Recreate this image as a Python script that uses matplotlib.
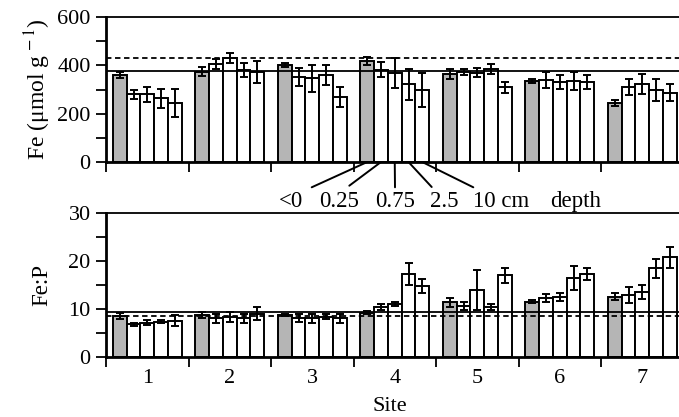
import matplotlib.pyplot as plt
import numpy as np

plt.rcParams['font.family'] = ['Liberation Serif', 'DejaVu Serif']
plt.rcParams['mathtext.fontset'] = 'stix'

sites = ['1', '2', '3', '4', '5', '6', '7']
depths = ['<0', '0.25', '0.75', '2.5', '10 cm']

# Fe (umol/g), rows = sites, cols = depth
fe = [[360, 280, 280, 264, 245],
      [374, 405, 429, 381, 372],
      [401, 353, 346, 360, 270],
      [419, 381, 367, 321, 298],
      [364, 374, 370, 385, 309],
      [336, 339, 332, 336, 332],
      [245, 309, 323, 298, 287]]
fe_err = [[14, 19, 30, 39, 58],
          [19, 21, 21, 28, 47],
          [8, 38, 55, 40, 41],
          [16, 31, 62, 64, 69],
          [19, 12, 19, 19, 22],
          [8, 32, 28, 36, 28],
          [12, 33, 41, 46, 34]]

fep = [[8.5, 6.75, 7.1, 7.3, 7.5],
       [8.7, 8.0, 8.3, 8.0, 9.0],
       [8.7, 8.0, 8.0, 8.3, 8.0],
       [9.2, 10.4, 11.0, 17.2, 14.7],
       [11.3, 10.6, 13.9, 10.4, 17.0],
       [11.5, 12.2, 12.4, 16.5, 17.2],
       [12.5, 12.85, 13.5, 18.4, 20.7]]
fep_err = [[0.6, 0.35, 0.55, 0.35, 1.2],
           [0.7, 1.0, 1.0, 1.0, 1.35],
           [0.3, 0.8, 0.9, 0.5, 1.0],
           [0.35, 0.6, 0.5, 2.25, 1.45],
           [0.85, 0.85, 4.2, 0.6, 1.55],
           [0.25, 0.8, 0.85, 2.5, 1.3],
           [0.7, 1.75, 1.5, 1.9, 2.2]]

fe_solid, fe_dashed = 376, 430
fep_solid, fep_dashed = 9.35, 8.5

W, H = 679, 417
fig = plt.figure(figsize=(W / 100, H / 100), dpi=100)
left = 106 / W
width = (683.5 - 106) / W
ax1 = fig.add_axes([left, 1 - 162 / H, width, 145 / H])
ax2 = fig.add_axes([left, 1 - 356.7 / H, width, 144 / H])

n_sites = len(sites)
bw = 1 / 6
colors = ['#b5b5b5'] + ['white'] * 4


def draw(ax, vals, errs, solid, dashed):
    vals = np.array(vals)
    errs = np.array(errs)
    for k in range(len(depths)):
        x = np.arange(n_sites) + (k + 1) * bw
        ax.bar(x, vals[:, k], width=bw, color=colors[k], edgecolor='black',
               linewidth=1.4, zorder=2)
        ax.errorbar(x, vals[:, k], yerr=errs[:, k], fmt='none', ecolor='black',
                    elinewidth=1.4, capsize=2.6, capthick=1.4, zorder=3)
    ax.axhline(solid, color='black', lw=1.3, zorder=4)
    ax.axhline(dashed, color='black', lw=1.3, ls=(0, (3, 2)), zorder=4)
    ax.set_xlim(0, n_sites)
    ax.set_xticks(np.arange(n_sites + 1))
    ax.set_xticklabels([])
    ax.set_xticks(np.arange(n_sites) + 0.5, minor=True)
    ax.tick_params(axis='x', which='major', direction='out', length=7.5, width=1.3)
    ax.tick_params(axis='x', which='minor', length=0)
    ax.tick_params(axis='y', which='both', direction='out', length=7.5, width=1.3,
                   labelsize=16)
    ax.spines['left'].set_linewidth(2)
    ax.spines['bottom'].set_linewidth(2)
    ax.spines['top'].set_linewidth(1.3)
    ax.spines['right'].set_linewidth(1.3)


draw(ax1, fe, fe_err, fe_solid, fe_dashed)
ax1.set_ylim(0, 600)
ax1.set_yticks([0, 200, 400, 600])
ax1.set_yticks([100, 300, 500], minor=True)
ax1.set_ylabel('Fe (μmol g$^{\\,-1}$)', fontsize=17, labelpad=3)

draw(ax2, fep, fep_err, fep_solid, fep_dashed)
ax2.set_ylim(0, 30)
ax2.set_yticks([0, 10, 20, 30])
ax2.set_yticks([5, 15, 25], minor=True)
ax2.set_xticklabels(sites, minor=True, fontsize=16)
ax2.tick_params(axis='x', which='minor', pad=9)
ax2.set_ylabel('Fe:P', fontsize=16.5, labelpad=12)
ax2.set_xlabel('Site', fontsize=16)
ax2.xaxis.set_label_coords(0.492, -0.28)

# depth legend with leader lines from site 4 bars
label_x = [291.5, 339.5, 395, 444, 501.5]
line_end = [(311.7, 187.3), (349.3, 185.7), (395, 187.3), (431.7, 187), (473.3, 187.3)]
for k, lab in enumerate(depths):
    xc = 3 + (k + 1) * bw
    ex, ey = line_end[k]
    ax1.annotate('', xy=(xc, 0), xycoords='data',
                 xytext=(ex / W, 1 - ey / H), textcoords='figure fraction',
                 arrowprops=dict(arrowstyle='-', lw=1.4, color='black',
                                 shrinkA=0, shrinkB=0),
                 annotation_clip=False)
    fig.text(label_x[k] / W, 1 - 207 / H, lab, ha='center', va='baseline', fontsize=16.5)
fig.text(576 / W, 1 - 207 / H, 'depth', ha='center', va='baseline', fontsize=16.5)

fig.savefig('out.png', dpi=100)
